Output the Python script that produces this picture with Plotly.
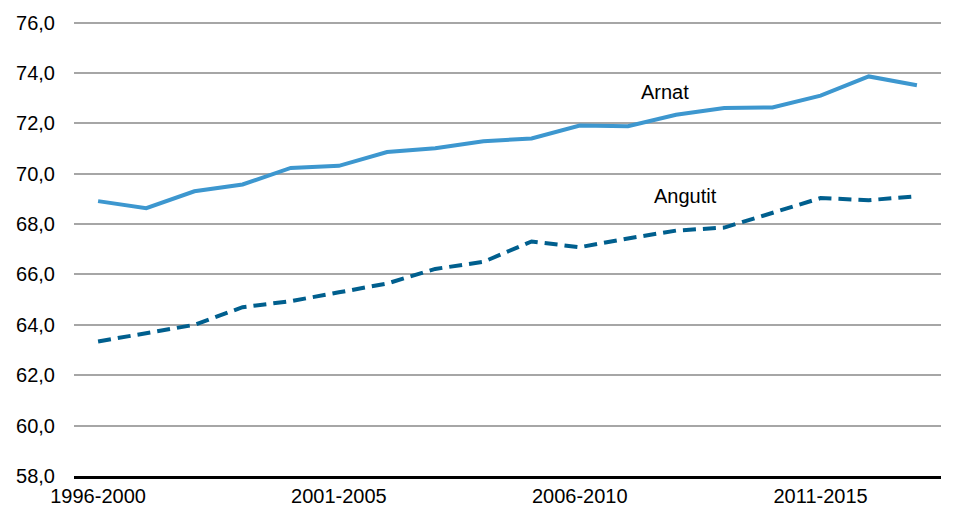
import plotly.graph_objects as go

periods = [f"{y}-{y + 4}" for y in range(1996, 2014)]
arnat = [68.91, 68.63, 69.30, 69.57, 70.23, 70.31, 70.86, 71.01, 71.29, 71.40,
         71.91, 71.88, 72.34, 72.61, 72.63, 73.10, 73.86, 73.51]
angutit = [63.34, 63.65, 64.00, 64.70, 64.94, 65.29, 65.64, 66.22, 66.50, 67.31,
           67.08, 67.43, 67.74, 67.86, 68.44, 69.03, 68.95, 69.10]
tick_labels = periods[::5]

fig = go.Figure()
fig.add_trace(go.Scatter(
    x=periods, y=arnat, mode="lines", name="Arnat",
    line={"color": "#3D97CF", "width": 4},
))
fig.add_trace(go.Scatter(
    x=periods, y=angutit, mode="lines", name="Angutit",
    line={"color": "#005F8E", "width": 4, "dash": "13px,7px"},
))

# series labels sit on the chart, not in a legend
fig.add_annotation(x=11.77, y=73.25, text="Arnat", showarrow=False,
                   xanchor="center", yanchor="middle")
fig.add_annotation(x=12.2, y=69.12, text="Angutit", showarrow=False,
                   xanchor="center", yanchor="middle")

fig.update_layout(
    width=954, height=519,
    margin={"l": 74, "r": 13, "t": 20, "b": 37},
    paper_bgcolor="white", plot_bgcolor="white",
    showlegend=False,
    separators=",.",
    font={"family": "Liberation Sans, Arial, sans-serif", "size": 20, "color": "#000000"},
    xaxis={
        "type": "category",
        "range": [-0.5, 17.5],
        "tickvals": tick_labels,
        "ticktext": tick_labels,
        "showgrid": False,
        "showline": True, "linecolor": "#000000", "linewidth": 2.5,
        "ticks": "",
    },
    yaxis={
        "range": [58, 76.06],
        "tickvals": list(range(58, 77, 2)),
        "tickformat": ".1f",
        "showgrid": True, "gridcolor": "#A6A6A6", "gridwidth": 1.5,
        "zeroline": False,
        "ticks": "",
        "ticklabelstandoff": 18,
    },
)

# the page's default body margin would push the figure 8px off
fig.write_html(
    "out.html",
    config={"displayModeBar": False},
    post_script="document.body.style.margin = '0';",
)
